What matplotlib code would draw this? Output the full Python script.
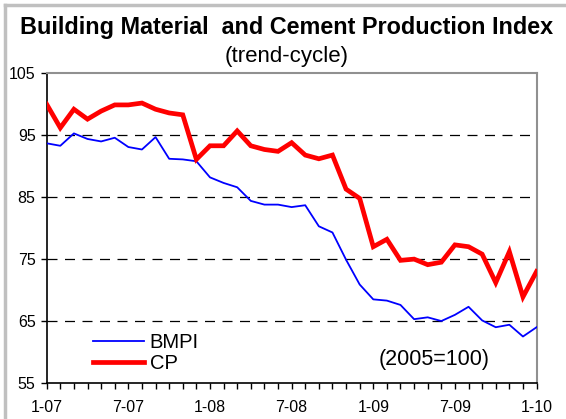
import numpy as np
import matplotlib
matplotlib.use("Agg")
import matplotlib.pyplot as plt
from matplotlib.lines import Line2D

plt.rcParams["font.family"] = ["Liberation Sans", "DejaVu Sans"]

# monthly, Jan 2007 .. Jan 2010
TICK_LABELS = ["1-07", "7-07", "1-08", "7-08", "1-09", "7-09", "1-10"]
BMPI = [93.7, 93.3, 95.3, 94.4, 94.0, 94.6, 93.1, 92.7, 94.7, 91.2, 91.1, 90.8,
        88.2, 87.3, 86.6, 84.4, 83.8, 83.8, 83.4, 83.7, 80.3, 79.3, 74.9, 70.9,
        68.5, 68.3, 67.6, 65.3, 65.6, 65.0, 66.0, 67.3, 65.1, 64.0, 64.4, 62.5, 64.0]
CP = [100.0, 96.2, 99.2, 97.6, 98.9, 99.9, 99.9, 100.2, 99.2, 98.6, 98.3, 91.1,
      93.3, 93.3, 95.7, 93.3, 92.7, 92.4, 93.8, 91.8, 91.2, 91.8, 86.3, 84.8,
      77.0, 78.2, 74.8, 75.0, 74.1, 74.5, 77.3, 77.0, 75.8, 71.2, 76.2, 68.9, 73.0]

x = np.arange(len(BMPI))

fig = plt.figure(figsize=(5.66, 4.19), dpi=100)
ax = fig.add_axes([0.0825, 0.086, 0.8655, 0.739])

# grey chart-area frame (top and left visible)
fig.add_artist(Line2D([5 / 566, 5 / 566], [0, 1 - 5 / 419], transform=fig.transFigure,
                      color="#c0c0c0", lw=2.5))
fig.add_artist(Line2D([5 / 566, 1], [1 - 5 / 419, 1 - 5 / 419], transform=fig.transFigure,
                      color="#c0c0c0", lw=2.5))

for yv in (65, 75, 85, 95):
    ax.axhline(yv, color="black", lw=0.9, ls=(0, (8, 6)), zorder=1)

ax.plot(x, BMPI, color="#0000ff", lw=1.3, label="BMPI", zorder=3)
ax.plot(x, CP, color="#ff0000", lw=3.4, label="CP", zorder=4, solid_joinstyle="miter")

ax.set_xlim(0, 36)
ax.set_ylim(55, 105)
ax.set_yticks([55, 65, 75, 85, 95, 105])
ax.set_xticks(np.arange(0, 37, 6))
ax.set_xticklabels(TICK_LABELS)
ax.set_xticks(np.arange(0, 37), minor=True)
ax.tick_params(axis="both", labelsize=11.5, direction="out", length=4, width=1, color="black")
ax.tick_params(axis="x", which="minor", length=4, width=1)
ax.tick_params(axis="x", pad=8)
ax.tick_params(axis="y", pad=4)

for s in ("left", "bottom"):
    ax.spines[s].set_color("black")
    ax.spines[s].set_linewidth(1.2)
for s in ("top", "right"):
    ax.spines[s].set_color("#909090")
    ax.spines[s].set_linewidth(1.5)

leg = ax.legend(loc="lower left", bbox_to_anchor=(0.062, -0.02), frameon=False, fontsize=14.5,
                handlelength=2.5, handletextpad=0.3, labelspacing=0.1, borderaxespad=0.4)

ax.text(0.79, 0.075, "(2005=100)", transform=ax.transAxes, fontsize=15.5, ha="center", va="center")

fig.text(0.507, 0.935, "Building Material  and Cement Production Index", fontsize=16.8,
         fontweight="bold", ha="center", va="center")
fig.text(0.507, 0.865, "(trend-cycle)", fontsize=16, ha="center", va="center")

fig.savefig("out.png", dpi=100)
